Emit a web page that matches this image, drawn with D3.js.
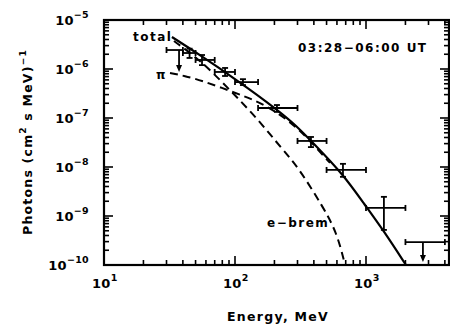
<!DOCTYPE html>
<html><head><meta charset="utf-8">
<script src="https://cdn.jsdelivr.net/npm/d3@7/dist/d3.min.js"></script>
<style>
html,body{margin:0;padding:0;background:#fff;}
text{font-family:"DejaVu Sans",sans-serif;font-weight:bold;fill:#000;}
</style></head>
<body>
<svg id="chart" width="450" height="328"></svg>
<script>
// ---- data ----
const xMajorTicks = [10, 100, 1000];
const xTickExponents = ["1", "2", "3"];
const yMajorTicks = [1e-5, 1e-6, 1e-7, 1e-8, 1e-9, 1e-10];
const yTickExponents = ["\u22125", "\u22126", "\u22127", "\u22128", "\u22129", "\u221210"];

// measured points: energy bin [eLo, eHi], centre energy, flux, flux error range
const ptE    = [45, 56, 84, 115, 209, 380, 667, 1370];
const ptELo  = [40, 50, 70, 100, 150, 300, 500, 1000];
const ptEHi  = [50, 70, 100, 150, 300, 500, 1000, 2000];
const ptF    = [2.12e-6, 1.53e-6, 8.7e-7, 5.4e-7, 1.6e-7, 3.4e-8, 8.7e-9, 1.46e-9];
const ptFLo  = [1.68e-6, 1.2e-6, 7.2e-7, 4.7e-7, 1.33e-7, 2.55e-8, 6.3e-9, 5.2e-10];
const ptFHi  = [2.6e-6, 1.93e-6, 1.05e-6, 6.2e-7, 1.84e-7, 4.1e-8, 1.16e-8, 2.46e-9];

// upper limits
const ulE    = [37.4, 2720];
const ulELo  = [30, 2000];
const ulEHi  = [40, 4000];
const ulF    = [2.44e-6, 2.94e-10];
const ulArrowTo = [8.7e-7, 1.15e-10];

// model curves
const totalE = [33, 54, 103.5, 209, 297, 394, 667, 982, 1371, 2018];
const totalF = [4.5e-6, 1.93e-6, 5.92e-7, 1.5e-7, 6.8e-8, 3.1e-8, 7.2e-9, 1.67e-9, 4.9e-10, 1e-10];
const piE = [31.9, 41.5, 54.1, 96.6, 147, 209, 297, 394, 531];
const piF = [8.28e-7, 7.2e-7, 5.97e-7, 3.4e-7, 2.22e-7, 1.32e-7, 6.4e-8, 2.94e-8, 1.21e-8];
const ebE = [34.2, 54.1, 88.5, 147, 232, 303, 470, 601, 692];
const ebF = [3.72e-6, 1.53e-6, 4.09e-7, 1e-7, 2.22e-8, 1e-8, 1.53e-9, 4.5e-10, 1e-10];

// ---- drawing ----
const svg = d3.select("#chart");
const L = 104, R = 449, T = 20, B = 265;
const x = d3.scaleLog().domain([10, Math.pow(10, 1 + (R - L) / 131)]).range([L, R]);
const y = d3.scaleLog().domain([1e-10, 1e-5]).range([B, T]);

// minor tick positions
const xMinor = [], yMinor = [];
for (let d = 10; d < 10000; d *= 10) for (let k = 2; k <= 9; k++) { const v = d * k; if (v <= x.domain()[1]) xMinor.push(v); }
for (let d = 1e-10; d < 1e-5 * 0.99; d *= 10) for (let k = 2; k <= 9; k++) yMinor.push(d * k);

const g = svg.append("g");
const tickStyle = s => s.attr("stroke", "#000").attr("stroke-width", 1.6);
const majL = 9, minL = 5;

// bottom & top ticks
xMajorTicks.concat(xMinor).forEach(v => {
  const len = xMajorTicks.includes(v) ? majL : minL;
  if (v <= 10) return;
  tickStyle(g.append("line").attr("x1", x(v)).attr("x2", x(v)).attr("y1", B).attr("y2", B - len));
  tickStyle(g.append("line").attr("x1", x(v)).attr("x2", x(v)).attr("y1", T).attr("y2", T + len));
});
// left & right ticks
yMajorTicks.concat(yMinor).forEach(v => {
  const len = yMajorTicks.includes(v) ? majL : minL;
  tickStyle(g.append("line").attr("x1", L).attr("x2", L + len).attr("y1", y(v)).attr("y2", y(v)));
  tickStyle(g.append("line").attr("x1", R).attr("x2", R - len).attr("y1", y(v)).attr("y2", y(v)));
});

// frame
g.append("rect").attr("x", L).attr("y", T).attr("width", R - L).attr("height", B - T)
  .attr("fill", "none").attr("stroke", "#000").attr("stroke-width", 2.2);

// tick labels
xMajorTicks.forEach((v, i) => {
  const t = g.append("text").attr("x", x(v) - 12).attr("y", 288).attr("font-size", 13).attr("letter-spacing", 0.3);
  t.append("tspan").text("10");
  t.append("tspan").attr("dy", -7).attr("font-size", 9.5).text(xTickExponents[i]);
});
yMajorTicks.forEach((v, i) => {
  const t = g.append("text").attr("x", 89).attr("y", y(v) + 5).attr("text-anchor", "end").attr("font-size", 13).attr("letter-spacing", 0.3);
  t.append("tspan").text("10");
  t.append("tspan").attr("dy", -7).attr("font-size", 9.5).text(yTickExponents[i]);
});

// axis titles
g.append("text").attr("x", 278).attr("y", 321).attr("text-anchor", "middle").attr("font-size", 12.5)
  .attr("letter-spacing", 1.3).text("Energy, MeV");
const yt = g.append("text").attr("transform", "translate(32,142) rotate(-90)").attr("text-anchor", "middle")
  .attr("font-size", 12.5).attr("letter-spacing", 1.2);
yt.append("tspan").text("Photons (cm");
yt.append("tspan").attr("dy", -6).attr("font-size", 9).text("2");
yt.append("tspan").attr("dy", 6).text(" s MeV)");
yt.append("tspan").attr("dy", -6).attr("font-size", 9).text("\u22121");

// curves
const line = d3.line().x(d => x(d[0])).y(d => y(d[1])).curve(d3.curveBasis);
const plot = svg.append("g");
plot.append("path").attr("d", line(totalE.map((e, i) => [e, totalF[i]])))
  .attr("fill", "none").attr("stroke", "#000").attr("stroke-width", 2.2);
plot.append("path").attr("d", line(piE.map((e, i) => [e, piF[i]])))
  .attr("fill", "none").attr("stroke", "#000").attr("stroke-width", 2).attr("stroke-dasharray", "8,5");
plot.append("path").attr("d", line(ebE.map((e, i) => [e, ebF[i]])))
  .attr("fill", "none").attr("stroke", "#000").attr("stroke-width", 2).attr("stroke-dasharray", "8,5");

// error bars
const eb = plot.append("g").attr("stroke", "#000").attr("stroke-width", 1.8).attr("fill", "none");
const cap = 3;
ptE.forEach((e, i) => {
  const cx = x(e), cy = y(ptF[i]);
  eb.append("line").attr("x1", x(ptELo[i])).attr("x2", x(ptEHi[i])).attr("y1", cy).attr("y2", cy);
  eb.append("line").attr("x1", x(ptELo[i])).attr("x2", x(ptELo[i])).attr("y1", cy - cap).attr("y2", cy + cap);
  eb.append("line").attr("x1", x(ptEHi[i])).attr("x2", x(ptEHi[i])).attr("y1", cy - cap).attr("y2", cy + cap);
  eb.append("line").attr("x1", cx).attr("x2", cx).attr("y1", y(ptFHi[i])).attr("y2", y(ptFLo[i]));
  eb.append("line").attr("x1", cx - cap).attr("x2", cx + cap).attr("y1", y(ptFHi[i])).attr("y2", y(ptFHi[i]));
  eb.append("line").attr("x1", cx - cap).attr("x2", cx + cap).attr("y1", y(ptFLo[i])).attr("y2", y(ptFLo[i]));
});
// upper limits
ulE.forEach((e, i) => {
  const cx = x(e), cy = y(ulF[i]), ty = y(ulArrowTo[i]);
  eb.append("line").attr("x1", x(ulELo[i])).attr("x2", x(ulEHi[i])).attr("y1", cy).attr("y2", cy);
  eb.append("line").attr("x1", x(ulELo[i])).attr("x2", x(ulELo[i])).attr("y1", cy - cap).attr("y2", cy + cap);
  eb.append("line").attr("x1", x(ulEHi[i])).attr("x2", x(ulEHi[i])).attr("y1", cy - cap).attr("y2", cy + cap);
  eb.append("line").attr("x1", cx).attr("x2", cx).attr("y1", cy).attr("y2", ty - 5);
  plot.append("path").attr("d", `M${cx - 3},${ty - 7}L${cx + 3},${ty - 7}L${cx},${ty}Z`).attr("fill", "#000");
});

// annotations
svg.append("text").attr("x", 133).attr("y", 41).attr("font-size", 12).attr("letter-spacing", 1.5).text("total");
svg.append("text").attr("x", 156).attr("y", 79).attr("font-size", 12).text("\u03c0");
svg.append("text").attr("x", 267).attr("y", 227).attr("font-size", 12).attr("letter-spacing", 1.5).text("e\u2212brem");
svg.append("text").attr("x", 298).attr("y", 52).attr("font-size", 12).attr("letter-spacing", 1.5).text("03:28\u221206:00 UT");
</script>
</body></html>
